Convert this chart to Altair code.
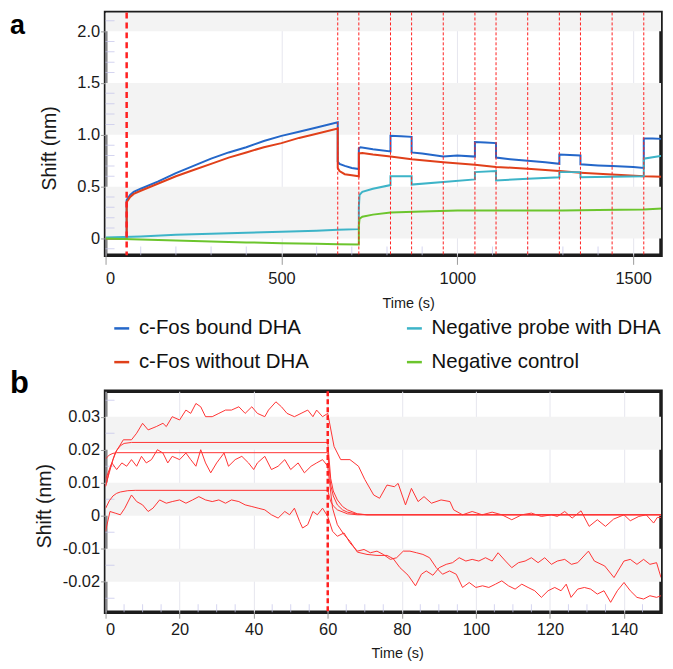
import altair as alt
import pandas as pd

# ---------------- Panel a ----------------
SERIES = ["c-Fos bound DHA", "c-Fos without DHA", "Negative probe with DHA", "Negative control"]
COLORS = ["#2467c9", "#e0401a", "#3db4c8", "#6cc52d"]

bound_t = [0, 30, 60, 60, 70, 80, 100, 150, 200, 250, 300, 350, 400, 450, 500, 550, 600, 660,
           660, 665, 680, 700, 720, 720, 725, 760, 810, 810, 840, 870, 870, 900, 960, 1000, 1050,
           1050, 1080, 1110, 1110, 1150, 1200, 1250, 1290, 1290, 1320, 1350, 1350, 1400, 1440,
           1500, 1530, 1530, 1555, 1586]
bound_v = [0.0, 0.0, 0.0, 0.37, 0.42, 0.45, 0.48, 0.55, 0.63, 0.70, 0.77, 0.83, 0.88, 0.94, 0.99,
           1.03, 1.07, 1.12, 0.74, 0.72, 0.70, 0.68, 0.67, 0.87, 0.88, 0.86, 0.84, 0.99, 0.985,
           0.98, 0.83, 0.82, 0.79, 0.80, 0.79, 0.93, 0.925, 0.92, 0.78, 0.765, 0.75, 0.735, 0.72,
           0.81, 0.805, 0.80, 0.715, 0.705, 0.70, 0.69, 0.68, 0.965, 0.965, 0.96]

without_t = [0, 30, 60, 60, 70, 80, 100, 150, 200, 250, 300, 350, 400, 450, 500, 550, 600, 660,
             660, 665, 680, 700, 720, 720, 730, 760, 810, 870, 960, 1050, 1110, 1200, 1290, 1350,
             1440, 1530, 1586]
without_v = [0.0, 0.0, 0.0, 0.35, 0.40, 0.43, 0.46, 0.53, 0.60, 0.66, 0.72, 0.78, 0.83, 0.88,
             0.92, 0.97, 1.01, 1.06, 0.68, 0.65, 0.62, 0.61, 0.60, 0.82, 0.825, 0.81, 0.79, 0.765,
             0.735, 0.71, 0.69, 0.673, 0.65, 0.635, 0.618, 0.60, 0.596]

probe_t = [0, 100, 200, 300, 400, 500, 600, 660, 720, 720, 722, 730, 760, 810, 810, 840, 870, 870,
           960, 1050, 1050, 1110, 1110, 1200, 1290, 1290, 1350, 1350, 1440, 1530, 1530, 1586]
probe_v = [0.01, 0.02, 0.035, 0.045, 0.055, 0.065, 0.075, 0.085, 0.09, 0.30, 0.42, 0.45, 0.48,
           0.515, 0.60, 0.60, 0.60, 0.52, 0.545, 0.57, 0.64, 0.65, 0.56, 0.575, 0.59, 0.64, 0.64,
           0.59, 0.595, 0.60, 0.77, 0.80]

control_t = [0, 100, 200, 300, 400, 500, 600, 660, 720, 720, 722, 730, 760, 810, 900, 1000, 1100,
             1200, 1300, 1400, 1530, 1586]
control_v = [0.0, -0.01, -0.02, -0.03, -0.038, -0.045, -0.05, -0.055, -0.058, 0.12, 0.19, 0.21,
             0.23, 0.25, 0.26, 0.27, 0.27, 0.27, 0.27, 0.275, 0.28, 0.29]

steps_major_a = [60]
steps_a = [660, 720, 810, 870, 960, 1050, 1110, 1200, 1290, 1350, 1440, 1530]

a_x_ticks = [0, 500, 1000, 1500]
a_y_ticks = [0, 0.5, 1.0, 1.5, 2.0]
a_band_lo = [0.0, 1.0, 2.0]
a_band_hi = [0.5, 1.5, 2.5]
a_minor_y = [-0.1, 0.1, 0.2, 0.3, 0.4, 0.6, 0.7, 0.8, 0.9, 1.1, 1.2, 1.3, 1.4, 1.6, 1.7, 1.8, 1.9, 2.1]
a_minor_x = [100, 200, 300, 400, 600, 700, 800, 900, 1100, 1200, 1300, 1400]

# ---------------- Panel b ----------------
curve_top = [(0, 0.0088), (1.1, 0.014), (2.6, 0.019), (4.8, 0.023), (7, 0.023), (8.4, 0.025),
             (10, 0.028), (11.5, 0.026), (13.7, 0.027), (15.5, 0.028), (16.4, 0.027), (18, 0.030),
             (20, 0.029), (21.7, 0.032), (23, 0.031), (24.4, 0.034), (25.7, 0.033), (27, 0.030),
             (28.8, 0.030), (30.6, 0.031), (32.4, 0.032), (34, 0.032), (36, 0.033), (37.7, 0.031),
             (39.5, 0.033), (41, 0.031), (43, 0.030), (44, 0.032), (46, 0.0345), (47.5, 0.033),
             (49, 0.031), (51, 0.030), (52.8, 0.031), (54.6, 0.032), (56, 0.030), (57, 0.032),
             (58.6, 0.030), (60, 0.031), (61.7, 0.021), (63.5, 0.017), (66, 0.017), (68.3, 0.015),
             (70, 0.011), (72.4, 0.0063), (74, 0.0053), (76, 0.0093), (78, 0.0088), (79, 0.0098),
             (81, 0.0033), (82.6, 0.0083), (84.4, 0.0043), (86, 0.0058), (88, 0.0038), (90.6, 0.0048),
             (93, 0.0043), (94, 0.0018), (96.4, 0.0003), (99, 0.0013), (101.7, 0.0003), (104.4, 0.0011),
             (107, 0.0003), (109.7, -0.0012), (112.4, 0.0003), (115, 0.0008), (117.7, -0.0002),
             (120.4, 0.0003), (122, -0.0002), (124, 0.0013), (126, -0.0007), (128.4, 0.0015),
             (130.6, -0.0032), (132.8, -0.0012), (135, -0.0032), (137.2, -0.001), (140, 0.0003),
             (141.7, -0.0015), (144, -0.0002), (146, 0.0003), (148, -0.0022), (149, -0.0005),
             (150, -0.0005)]
curve_mid = [(0, 0.011), (1.7, 0.016), (3, 0.014), (4.4, 0.016), (5.7, 0.015), (7, 0.017),
             (8.4, 0.015), (9.7, 0.018), (11, 0.016), (12.4, 0.017), (14, 0.020), (15.5, 0.019),
             (16.8, 0.016), (18, 0.018), (20, 0.017), (21.7, 0.019), (23, 0.017), (24.4, 0.015),
             (25.7, 0.020), (27, 0.016), (28.4, 0.013), (30, 0.016), (32, 0.019), (33.2, 0.015),
             (35, 0.017), (36.8, 0.018), (38.6, 0.016), (40, 0.014), (41, 0.016), (43, 0.018),
             (44.8, 0.014), (46.6, 0.015), (48.4, 0.017), (50, 0.014), (52, 0.016), (53.7, 0.013),
             (55.5, 0.015), (57, 0.016), (58.6, 0.017), (60, 0.015), (61.3, 0.0023), (62.6, -0.0027),
             (64.4, -0.0057), (66, -0.0077), (68, -0.011), (70.6, -0.0117), (73.3, -0.012),
             (76, -0.012), (77.7, -0.013), (79.5, -0.0157), (81.7, -0.018), (83.7, -0.0212),
             (85.3, -0.0177), (86.6, -0.0167), (88.4, -0.018), (90.1, -0.0157), (92, -0.0147),
             (93.7, -0.0142), (95.5, -0.0127), (97.3, -0.0137), (99, -0.0132), (100.8, -0.0137),
             (102.6, -0.0127), (104.4, -0.0137), (106, -0.0112), (108, -0.0137), (109.7, -0.0157),
             (111.5, -0.0142), (113.3, -0.0137), (115, -0.0127), (116.8, -0.0142), (118.6, -0.0127),
             (120.4, -0.0147), (122, -0.0137), (124, -0.0132), (125.8, -0.0147), (127.5, -0.0142),
             (130.4, -0.0107), (132, -0.0137), (134.8, -0.0152), (137.3, -0.0187), (140, -0.0137),
             (141.7, -0.0132), (143.5, -0.0147), (145.3, -0.0132), (147, -0.0147), (148.8, -0.0142),
             (150, -0.0187)]
curve_low = [(0, -0.0047), (1.2, 0.0013), (2.6, 0.0008), (4, 0.0003), (5.2, 0.0023), (7, 0.0063),
             (8.4, 0.0043), (10, 0.0033), (11.5, 0.0013), (12.8, 0.0023), (14.6, 0.0048),
             (16.4, 0.0038), (18, 0.0043), (20, 0.0048), (21.7, 0.0038), (23.5, 0.0048),
             (25.2, 0.0058), (27, 0.0048), (28.8, 0.0043), (30.6, 0.0048), (32.4, 0.0038),
             (34, 0.0048), (36, 0.0043), (37.7, 0.0033), (39.5, 0.0028), (41.2, 0.0023),
             (43, 0.0018), (44.8, 0.0003), (46.6, -0.0007), (48.4, 0.0013), (49.7, 0.0003),
             (51, 0.0023), (52.4, -0.0017), (53.2, -0.0037), (54.6, -0.0027), (56, 0.0013),
             (57.2, 0.0003), (58.6, 0.0023), (60, -0.0002), (61.3, -0.0047), (62.6, -0.0062),
             (64.4, -0.0052), (66, -0.0082), (68, -0.0107), (69.8, -0.0102), (71.5, -0.0112),
             (73.3, -0.0107), (75, -0.0117), (76.9, -0.0132), (78.6, -0.0127), (80.4, -0.0107),
             (82.2, -0.0107), (84, -0.0112), (85.7, -0.0117), (87.5, -0.0127), (89.3, -0.0157),
             (91, -0.0177), (92.9, -0.0167), (94.7, -0.0177), (96.4, -0.0217), (98.2, -0.0202),
             (100, -0.0217), (101.8, -0.0212), (103.5, -0.0217), (105.3, -0.0207), (107, -0.0197),
             (108.8, -0.0212), (110.6, -0.0222), (112.4, -0.0207), (114.1, -0.0217), (115.9, -0.0227),
             (117.7, -0.0247), (119.5, -0.0227), (121.3, -0.0217), (123, -0.0227), (124.4, -0.0207),
             (125.7, -0.0247), (127.5, -0.0222), (129.3, -0.0217), (131, -0.0222), (132.8, -0.0237),
             (134.6, -0.0227), (136.4, -0.0262), (138.2, -0.0227), (140, -0.0202), (141.7, -0.0227),
             (143.5, -0.0247), (145.3, -0.0252), (147, -0.0242), (148.8, -0.0247), (150, -0.0242)]
fit_1 = [(0, 0.009), (1, 0.013), (2, 0.017), (3, 0.0198), (4, 0.0212), (5, 0.0219), (7, 0.0222),
         (60, 0.0222), (60.8, 0.0113), (61.5, 0.0075), (62.6, 0.0048), (64, 0.0028), (65.3, 0.0018),
         (68, 0.0006), (70.6, 0.0003), (150, 0.0003)]
fit_2 = [(0, 0.0172), (1, 0.0184), (2, 0.0189), (3, 0.0191), (60, 0.0191), (60.8, 0.0093),
         (61.5, 0.0060), (62.6, 0.0033), (64, 0.0018), (65.3, 0.0011), (68, 0.0005), (70.6, 0.0003),
         (150, 0.0003)]
fit_3 = [(0, 0.0022), (1, 0.0045), (2, 0.006), (3, 0.0068), (4, 0.0072), (6, 0.0076), (8, 0.0077),
         (60, 0.0077), (60.8, 0.0043), (61.5, 0.003), (62.6, 0.0018), (65.3, 0.0006), (68, 0.0003),
         (150, 0.0003)]

steps_major_b = [60]
b_x_ticks = [0, 20, 40, 60, 80, 100, 120, 140]
b_y_ticks = [-0.02, -0.01, 0, 0.01, 0.02, 0.03]
b_band_lo = [0.02, 0.0, -0.02]
b_band_hi = [0.03, 0.01, -0.01]
b_minor_y = [-0.025, -0.015, -0.005, 0.005, 0.015, 0.025, 0.035]
b_minor_x = [5, 10, 15, 25, 30, 35, 45, 50, 55, 65, 70, 75, 85, 90, 95, 105, 110, 115, 125, 130, 135, 145]

# ---------------- build tables ----------------
rows_a = []
for name, ts, vs in [(SERIES[0], bound_t, bound_v), (SERIES[1], without_t, without_v),
                     (SERIES[2], probe_t, probe_v), (SERIES[3], control_t, control_v)]:
    for i, (t, v) in enumerate(zip(ts, vs)):
        rows_a.append({"series": name, "t": t, "v": v, "i": i})
df_a = pd.DataFrame(rows_a)

rows_b = []
for name, pts in [("top", curve_top), ("mid", curve_mid), ("low", curve_low),
                  ("fit1", fit_1), ("fit2", fit_2), ("fit3", fit_3)]:
    for i, (t, v) in enumerate(pts):
        rows_b.append({"curve": name, "t": t, "v": v, "i": i})
df_b = pd.DataFrame(rows_b)

FONT = "Liberation Sans"
TXT = "#1a1a1a"
MINOR = "#c3c3ea"
DASH_RED = "#ff1f1f"

# ---------------- panel a ----------------
WA, HA = 558, 244
xa = alt.Scale(domain=[0, 1579], nice=False, zero=False)
ya = alt.Scale(domain=[-0.163, 2.18], nice=False, zero=False)
ax_xa = alt.Axis(values=a_x_ticks, format="d", title="Time (s)", titleX=304, titleY=48,
                 titleBaseline="middle", titleAlign="center", titleFontSize=14.5,
                 tickSize=9, labelPadding=6, grid=True)
ax_ya = alt.Axis(values=a_y_ticks, title="Shift (nm)", titleX=-56, titleY=136, titleAngle=-90,
                 titleAlign="center", titleBaseline="middle", titleFontSize=19.5,
                 tickSize=5, labelPadding=1, grid=False,
                 labelExpr="datum.value == 0 ? '0' : format(datum.value, '.1f')")

bands_a = alt.Chart(pd.DataFrame({"lo": a_band_lo, "hi": a_band_hi})).mark_rect(
    color="#f3f3f3", clip=True).encode(
    y=alt.Y("lo:Q", scale=ya, axis=ax_ya), y2="hi:Q")

minor_ya = alt.Chart(pd.DataFrame({"m": a_minor_y})).mark_tick(
    orient="horizontal", size=18, thickness=1, color=MINOR, clip=True).encode(
    y=alt.Y("m:Q", scale=ya, axis=ax_ya), x=alt.value(0))
minor_xa = alt.Chart(pd.DataFrame({"m": a_minor_x})).mark_tick(
    orient="vertical", size=18, thickness=1, color=MINOR, clip=True).encode(
    x=alt.X("m:Q", scale=xa, axis=ax_xa), y=alt.value(HA))

lines_a = alt.Chart(df_a).mark_line(strokeWidth=2, clip=True).encode(
    x=alt.X("t:Q", scale=xa, axis=ax_xa),
    y=alt.Y("v:Q", scale=ya, axis=ax_ya),
    color=alt.Color("series:N", scale=alt.Scale(domain=SERIES, range=COLORS),
                    legend=alt.Legend(orient="none", legendX=6, legendY=307, columns=2,
                                      columnPadding=92, rowPadding=13, title=None,
                                      symbolType="stroke", symbolSize=225, symbolStrokeWidth=2.5,
                                      labelFontSize=20.5, labelOffset=7, labelFont=FONT,
                                      labelColor="#111111", labelLimit=0, padding=0)),
    order=alt.Order("i:Q"))

rules_a = alt.Chart(pd.DataFrame({"t": steps_a})).mark_rule(
    color=DASH_RED, strokeWidth=1, strokeDash=[3, 2]).encode(
    x=alt.X("t:Q", scale=xa, axis=ax_xa))
rules_major_a = alt.Chart(pd.DataFrame({"t": steps_major_a})).mark_rule(
    color=DASH_RED, strokeWidth=2.5, strokeDash=[6, 4]).encode(
    x=alt.X("t:Q", scale=xa, axis=ax_xa))

label_a = alt.Chart(pd.DataFrame({"s": ["a"]})).mark_text(
    align="left", baseline="top", fontSize=27, fontWeight="bold", font=FONT,
    color="#000000").encode(text="s:N", x=alt.value(-96), y=alt.value(1))

panel_a = alt.layer(bands_a, minor_ya, minor_xa, lines_a, rules_a, rules_major_a, label_a
                    ).properties(width=WA, height=HA)

# ---------------- panel b ----------------
WB, HB = 558, 222
xb = alt.Scale(domain=[0, 150], nice=False, zero=False)
yb = alt.Scale(domain=[-0.0292, 0.0377], nice=False, zero=False)
ax_xb = alt.Axis(values=b_x_ticks, format="d", title="Time (s)", titleX=293, titleY=41,
                 titleBaseline="middle", titleAlign="center", titleFontSize=14.5,
                 tickSize=6, labelPadding=3, grid=True)
ax_yb = alt.Axis(values=b_y_ticks, title="Shift (nm)", titleX=-61, titleY=115, titleAngle=-90,
                 titleAlign="center", titleBaseline="middle", titleFontSize=19.5,
                 tickSize=5, labelPadding=1, grid=False,
                 labelExpr="datum.value == 0 ? '0' : (datum.value < 0 ? '-' + format(-datum.value, '.2f') : format(datum.value, '.2f'))")

bands_b = alt.Chart(pd.DataFrame({"lo": b_band_lo, "hi": b_band_hi})).mark_rect(
    color="#f3f3f3", clip=True).encode(
    y=alt.Y("lo:Q", scale=yb, axis=ax_yb), y2="hi:Q")
minor_yb = alt.Chart(pd.DataFrame({"m": b_minor_y})).mark_tick(
    orient="horizontal", size=18, thickness=1, color=MINOR, clip=True).encode(
    y=alt.Y("m:Q", scale=yb, axis=ax_yb), x=alt.value(0))
minor_xb = alt.Chart(pd.DataFrame({"m": b_minor_x})).mark_tick(
    orient="vertical", size=16, thickness=1, color=MINOR, clip=True).encode(
    x=alt.X("m:Q", scale=xb, axis=ax_xb), y=alt.value(HB))

lines_b = alt.Chart(df_b).mark_line(strokeWidth=1, color="#ff3333", clip=True).encode(
    x=alt.X("t:Q", scale=xb, axis=ax_xb),
    y=alt.Y("v:Q", scale=yb, axis=ax_yb),
    detail="curve:N",
    order=alt.Order("i:Q"))

rules_b = alt.Chart(pd.DataFrame({"t": steps_major_b})).mark_rule(
    color=DASH_RED, strokeWidth=2.5, strokeDash=[5, 3]).encode(
    x=alt.X("t:Q", scale=xb, axis=ax_xb))

label_b = alt.Chart(pd.DataFrame({"s": ["b"]})).mark_text(
    align="left", baseline="top", fontSize=31, fontWeight="bold", font=FONT,
    color="#000000").encode(text="s:N", x=alt.value(-96), y=alt.value(-22))

panel_b = alt.layer(bands_b, minor_yb, minor_xb, lines_b, rules_b, label_b
                    ).properties(width=WB, height=HB)

chart = alt.vconcat(panel_a, panel_b, spacing=136.5, bounds="flush",
                    padding={"left": 0, "top": 0, "right": 2, "bottom": 0}).configure_view(
    stroke="#1c1c1c", strokeWidth=3.5
).configure_axis(
    labelFont=FONT, titleFont=FONT, labelFontSize=16.5, labelColor=TXT, titleColor=TXT,
    titleFontWeight="normal", tickColor="#9a9a9a", domain=False, gridColor="#e6e6ee",
    gridWidth=1
)

chart.save("out.html", embed_options={"renderer": "svg", "actions": False})
